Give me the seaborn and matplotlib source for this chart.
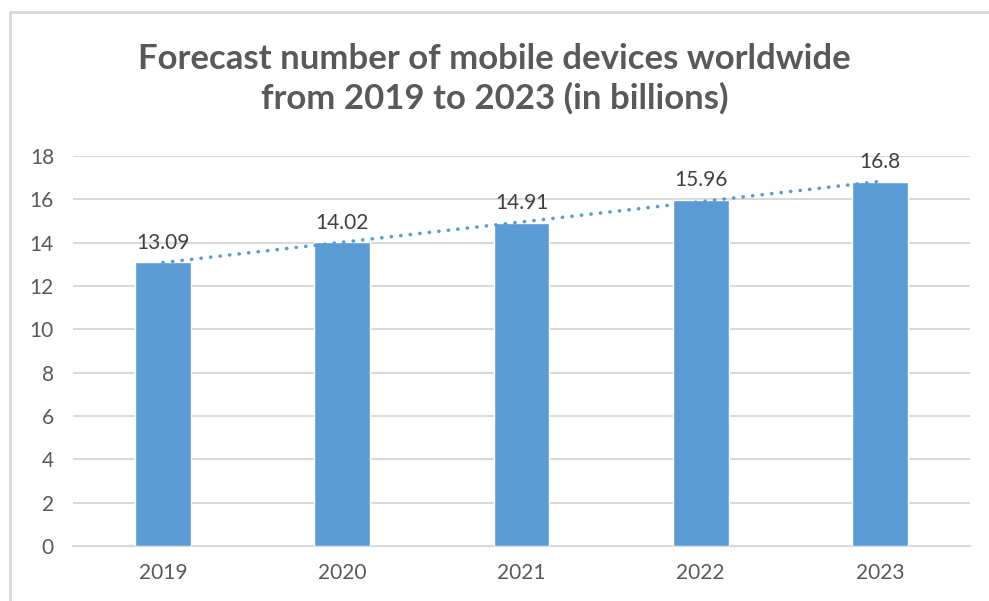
import matplotlib
matplotlib.use("Agg")
import matplotlib.pyplot as plt
import numpy as np
import pandas as pd
import seaborn as sns
from matplotlib.lines import Line2D

years = ["2019", "2020", "2021", "2022", "2023"]
devices = [13.09, 14.02, 14.91, 15.96, 16.8]
value_labels = ["13.09", "14.02", "14.91", "15.96", "16.8"]
y_ticks = [0, 2, 4, 6, 8, 10, 12, 14, 16, 18]
title = "Forecast number of mobile devices worldwide\nfrom 2019 to 2023 (in billions)"

bar_color = "#5B9BD5"
grid_color = "#D9D9D9"
axis_text = "#595959"
label_text = "#404040"

sns.set_theme(style="white")
plt.rcParams["font.family"] = ["Lato", "DejaVu Sans"]

df = pd.DataFrame({"year": years, "devices": devices})

fig = plt.figure(figsize=(9.89, 6.01), dpi=100)
ax = fig.add_axes([73.4 / 989, 1 - 546 / 601, 896.2 / 989, 390 / 601])

sns.barplot(data=df, x="year", y="devices", color=bar_color, width=0.31,
            saturation=1, ax=ax, zorder=3)

# linear trend across the five years
sns.regplot(x=np.arange(len(years)), y=np.array(devices), scatter=False, ci=None,
            truncate=True, ax=ax,
            line_kws=dict(color=bar_color, lw=2.6, linestyle=(0, (0.05, 2.6)),
                          dash_capstyle="round", zorder=4))

for i, (v, lab) in enumerate(zip(devices, value_labels)):
    ax.annotate(lab, (i, v), xytext=(0, 7), textcoords="offset points",
                ha="center", va="bottom", fontsize=15, color=label_text, zorder=5)

ax.set_ylim(0, 18)
ax.set_xlim(-0.5, len(years) - 0.5)
ax.set_yticks(y_ticks)
ax.set_yticklabels([str(t) for t in y_ticks])
ax.yaxis.grid(True, color=grid_color, lw=1.5, zorder=0)
ax.set_axisbelow(True)
ax.set_xlabel("")
ax.set_ylabel("")
for side in ["top", "right", "left"]:
    ax.spines[side].set_visible(False)
ax.spines["bottom"].set_color(grid_color)
ax.spines["bottom"].set_linewidth(1.5)
ax.tick_params(axis="both", length=0, labelsize=15, labelcolor=axis_text)
ax.tick_params(axis="y", pad=14)
ax.tick_params(axis="x", pad=12)

fig.text(0.5, 1 - 79 / 601, title, ha="center", va="center", fontsize=25,
         fontweight="bold", color=axis_text, linespacing=1.25)

# chart area border (left and top edges)
fig.add_artist(Line2D([10 / 989, 10 / 989, 1.0], [0.0, 1 - 12 / 601, 1 - 12 / 601],
                      transform=fig.transFigure, color=grid_color, lw=2))

fig.savefig("out.png", dpi=100, facecolor="white")
